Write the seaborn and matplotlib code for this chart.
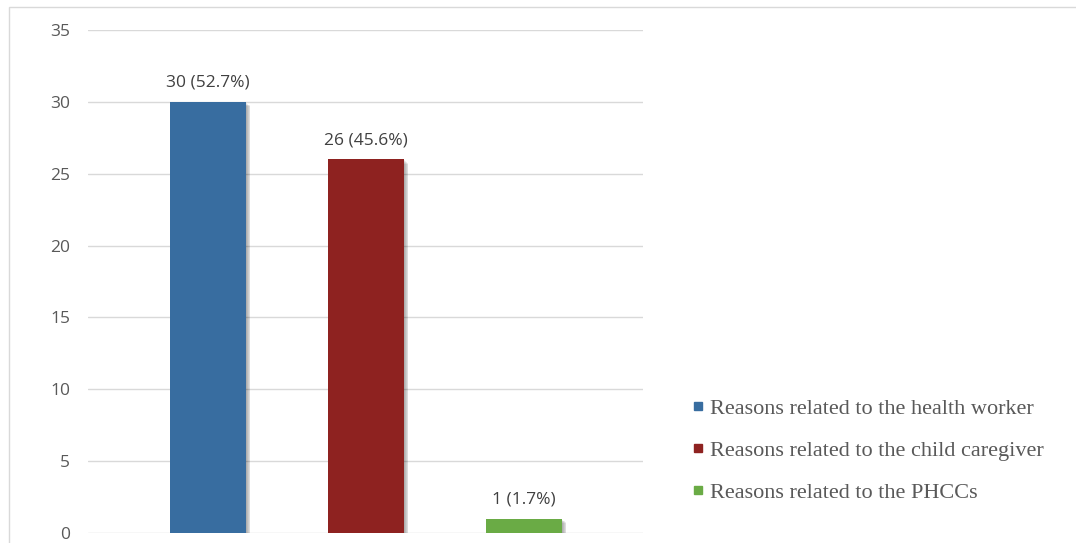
import matplotlib
matplotlib.use("Agg")
import matplotlib.pyplot as plt
import matplotlib.patheffects as pe
from matplotlib.lines import Line2D
from matplotlib.patches import Rectangle
import seaborn as sns
import pandas as pd

categories = ["Reasons related to the health worker",
              "Reasons related to the child caregiver",
              "Reasons related to the PHCCs"]
values = [30, 26, 1]
bar_labels = ["30 (52.7%)", "26 (45.6%)", "1 (1.7%)"]
colors = ["#386DA0", "#8E2220", "#6AAB45"]
yticks = [0, 5, 10, 15, 20, 25, 30, 35]

sns.set_theme(style="white")
plt.rcParams['font.family'] = ['Open Sans', 'DejaVu Sans']

df = pd.DataFrame({"cat": categories, "val": values})

fig = plt.figure(figsize=(10.76, 5.43), dpi=100)
fig.patch.set_facecolor("white")
# outer chart border
fig.patches.append(Rectangle((9/1076, -0.1), 1.2, 1 - 7/543 + 0.1, transform=fig.transFigure,
                             fill=False, edgecolor="#d9d9d9", linewidth=1.0, zorder=0))

ax = fig.add_axes([88/1076, 10/543, (643-88)/1076, (533-30)/543])
sns.barplot(data=df, x="cat", y="val", hue="cat", palette=colors, dodge=False,
            width=0.48, legend=False, ax=ax, saturation=1, linewidth=0)

shadow = [pe.SimplePatchShadow(offset=(o, -o), shadow_rgbFace="#000000", alpha=0.07)
          for o in (3.2, 2.6, 2.0, 1.4, 0.8)]
for p in ax.patches:
    p.set_path_effects(shadow + [pe.Normal()])

ax.set_xlim(-0.76, 2.753)
ax.set_ylim(0, 35)
ax.set_yticks(yticks)
ax.set_yticklabels([str(t) for t in yticks], color="#595959", fontsize=12.5)
ax.tick_params(axis="y", length=0, pad=13)
ax.set_xticks([])
ax.set_xlabel("")
ax.set_ylabel("")
ax.yaxis.grid(True, color="#d9d9d9", linewidth=1.0)
ax.set_axisbelow(True)
for s in ax.spines.values():
    s.set_visible(False)

for i, (v, lab) in enumerate(zip(values, bar_labels)):
    ax.annotate(lab, (i, v), xytext=(0, 8), textcoords="offset points",
                ha="center", va="bottom", color="#404040", fontsize=12.5)

handles = [Line2D([0], [0], marker="s", linestyle="none", markersize=6,
                  markerfacecolor=c, markeredgecolor=c) for c in colors]
fig.legend(handles, categories, loc="upper left", bbox_to_anchor=(668/1076, 1 - 378/543),
           frameon=False, handletextpad=0.1, handlelength=0.9, labelspacing=0.97,
           prop={"family": "Liberation Serif", "size": 16}, labelcolor="#595959")

fig.savefig("out.png", dpi=100)
